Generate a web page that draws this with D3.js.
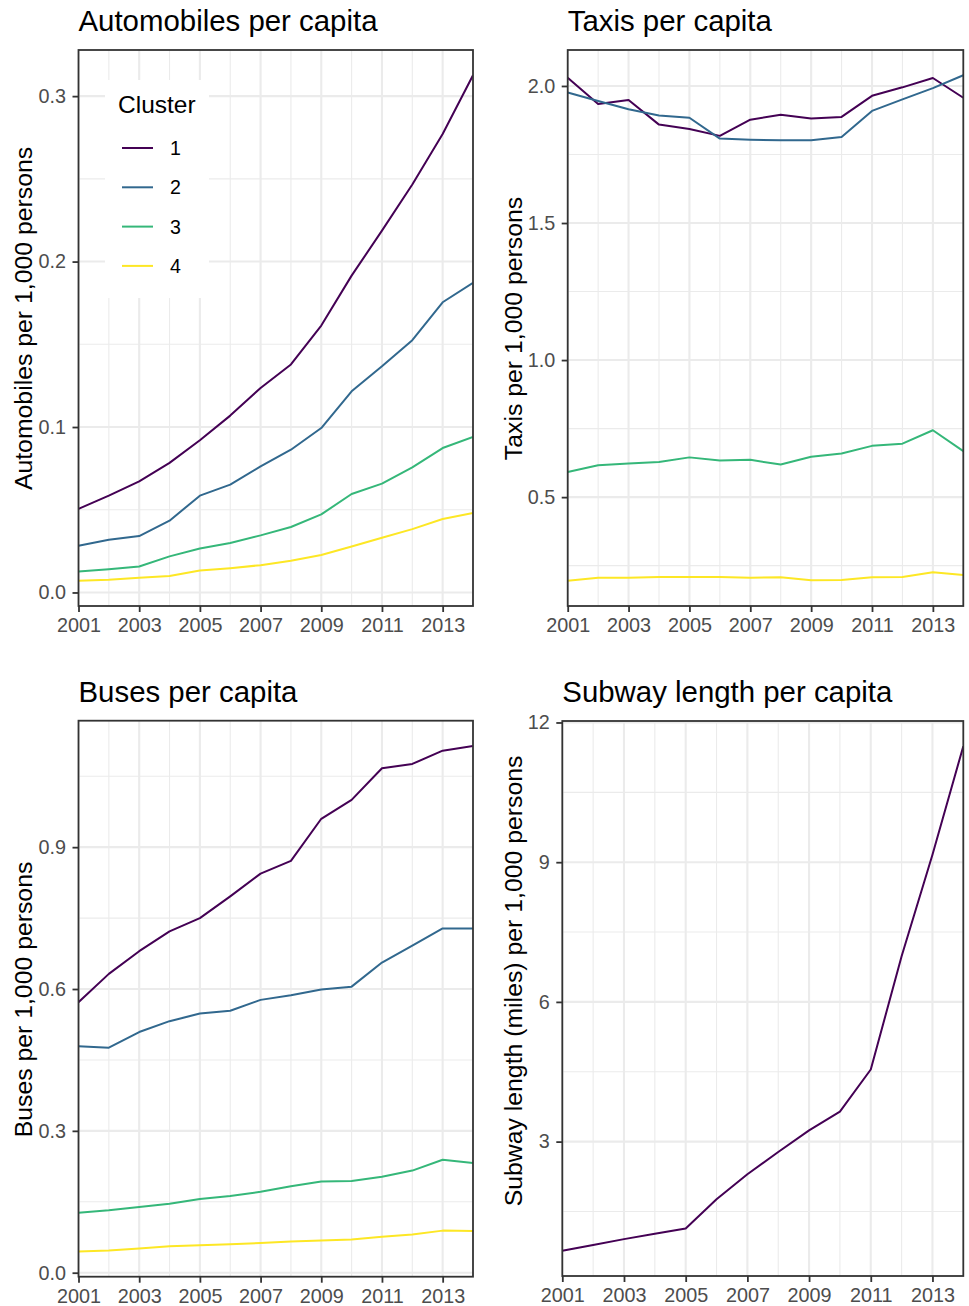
<!DOCTYPE html>
<html>
<head>
<meta charset="utf-8">
<script src="https://cdn.jsdelivr.net/npm/d3@7"></script>
<style>
  html, body { margin: 0; padding: 0; background: #ffffff; }
  svg { display: block; font-family: "Liberation Sans", Arial, Helvetica, sans-serif; }
</style>
</head>
<body>
<svg id="chart" width="969" height="1306"></svg>
<script>
// ---- data -------------------------------------------------------------
const years = [2001, 2002, 2003, 2004, 2005, 2006, 2007, 2008, 2009, 2010, 2011, 2012, 2013, 2014];
const clusters = ["1", "2", "3", "4"];
const clusterColors = ["#440154", "#31688E", "#35B779", "#FDE725"];

// Automobiles per 1,000 persons, by cluster
const autos1 = [0.0505, 0.0585, 0.0672, 0.0783, 0.0920, 0.1069, 0.1236, 0.1378, 0.1613, 0.1915, 0.2187, 0.2466, 0.2771, 0.3126];
const autos2 = [0.0282, 0.0319, 0.0341, 0.0434, 0.0585, 0.0652, 0.0762, 0.0863, 0.0994, 0.1216, 0.1367, 0.1525, 0.1754, 0.1872];
const autos3 = [0.0127, 0.0141, 0.0157, 0.0218, 0.0266, 0.0299, 0.0345, 0.0396, 0.0472, 0.0595, 0.0658, 0.0756, 0.0873, 0.0940];
const autos4 = [0.0071, 0.0077, 0.0089, 0.0099, 0.0133, 0.0147, 0.0165, 0.0192, 0.0226, 0.0278, 0.0331, 0.0383, 0.0444, 0.0480];

// Taxis per 1,000 persons, by cluster
const taxis1 = [2.030, 1.934, 1.949, 1.859, 1.843, 1.818, 1.877, 1.895, 1.881, 1.887, 1.964, 1.995, 2.029, 1.957];
const taxis2 = [1.976, 1.945, 1.915, 1.892, 1.884, 1.808, 1.804, 1.802, 1.802, 1.814, 1.909, 1.951, 1.992, 2.039];
const taxis3 = [0.592, 0.616, 0.623, 0.628, 0.645, 0.634, 0.636, 0.619, 0.647, 0.659, 0.687, 0.695, 0.744, 0.668];
const taxis4 = [0.195, 0.206, 0.206, 0.209, 0.209, 0.209, 0.206, 0.208, 0.197, 0.198, 0.208, 0.209, 0.226, 0.216];

// Buses per 1,000 persons, by cluster
const buses1 = [0.572, 0.632, 0.680, 0.722, 0.750, 0.796, 0.844, 0.871, 0.960, 1.000, 1.067, 1.076, 1.104, 1.114];
const buses2 = [0.479, 0.476, 0.509, 0.532, 0.548, 0.554, 0.577, 0.587, 0.599, 0.605, 0.656, 0.692, 0.728, 0.728];
const buses3 = [0.127, 0.132, 0.139, 0.146, 0.156, 0.162, 0.171, 0.183, 0.193, 0.194, 0.203, 0.216, 0.239, 0.232];
const buses4 = [0.045, 0.047, 0.051, 0.056, 0.058, 0.060, 0.063, 0.066, 0.068, 0.070, 0.076, 0.081, 0.089, 0.088];

// Subway length (miles) per 1,000 persons, cluster 1 only
const subway1 = [0.656, 0.778, 0.906, 1.020, 1.136, 1.763, 2.299, 2.777, 3.242, 3.642, 4.549, 6.98, 9.16, 11.49];

// ---- ticks ------------------------------------------------------------
const xMajorTicks = [2001, 2003, 2005, 2007, 2009, 2011, 2013];
const xMinorTicks = [2002, 2004, 2006, 2008, 2010, 2012, 2014];
const autosTicks = [0.0, 0.1, 0.2, 0.3];
const autosMinor = [0.05, 0.15, 0.25];
const taxisTicks = [0.5, 1.0, 1.5, 2.0];
const taxisMinor = [0.25, 0.75, 1.25, 1.75];
const busesTicks = [0.0, 0.3, 0.6, 0.9];
const busesMinor = [0.15, 0.45, 0.75, 1.05];
const subwayTicks = [3, 6, 9, 12];
const subwayMinor = [1.5, 4.5, 7.5, 10.5];

// ---- panels -------------------------------------------------------------
const panels = [
  { title: "Automobiles per capita", ylab: "Automobiles per 1,000 persons",
    series: [autos1, autos2, autos3, autos4], ticks: autosTicks, minor: autosMinor, fmt: d3.format(".1f"),
    box: { left: 78.5, top: 50, right: 473, bottom: 606 }, ylabX: 32, ylabY: 318.5, legend: true },
  { title: "Taxis per capita", ylab: "Taxis per 1,000 persons",
    series: [taxis1, taxis2, taxis3, taxis4], ticks: taxisTicks, minor: taxisMinor, fmt: d3.format(".1f"),
    box: { left: 567.7, top: 50, right: 963.3, bottom: 606 }, ylabX: 522, ylabY: 328.5 },
  { title: "Buses per capita", ylab: "Buses per 1,000 persons",
    series: [buses1, buses2, buses3, buses4], ticks: busesTicks, minor: busesMinor, fmt: d3.format(".1f"),
    box: { left: 78.5, top: 720.7, right: 473, bottom: 1276.7 }, ylabX: 32, ylabY: 999.5 },
  { title: "Subway length per capita", ylab: "Subway length (miles) per 1,000 persons",
    series: [subway1], ticks: subwayTicks, minor: subwayMinor, fmt: d3.format("d"),
    box: { left: 562.3, top: 721, right: 963.3, bottom: 1276 }, ylabX: 522, ylabY: 981 }
];

const GRID = "#EBEBEB";
const INK = "#333333";
const TICK_TEXT = "#4D4D4D";
const svg = d3.select("#chart");

svg.append("rect").attr("width", 969).attr("height", 1306).attr("fill", "#ffffff");

panels.forEach((p, pi) => {
  const b = p.box;
  const allVals = p.series.flat();
  const lo = d3.min(allVals), hi = d3.max(allVals);
  const pad = (hi - lo) * 0.05;

  const x = d3.scaleLinear().domain([years[0], years[years.length - 1]]).range([b.left, b.right]);
  const y = d3.scaleLinear().domain([lo - pad, hi + pad]).range([b.bottom, b.top]);

  const g = svg.append("g");

  g.append("rect")
    .attr("x", b.left).attr("y", b.top)
    .attr("width", b.right - b.left).attr("height", b.bottom - b.top)
    .attr("fill", "#ffffff");

  const clipId = "clip" + pi;
  g.append("clipPath").attr("id", clipId)
    .append("rect")
    .attr("x", b.left).attr("y", b.top)
    .attr("width", b.right - b.left).attr("height", b.bottom - b.top);

  const grid = g.append("g").attr("clip-path", `url(#${clipId})`);

  // minor grid
  grid.selectAll("line.vminor").data(xMinorTicks).join("line")
    .attr("x1", d => x(d)).attr("x2", d => x(d))
    .attr("y1", b.top).attr("y2", b.bottom)
    .attr("stroke", GRID).attr("stroke-width", 1.1);
  grid.selectAll("line.hminor").data(p.minor).join("line")
    .attr("x1", b.left).attr("x2", b.right)
    .attr("y1", d => y(d)).attr("y2", d => y(d))
    .attr("stroke", GRID).attr("stroke-width", 1.1);

  // major grid
  grid.selectAll("line.vmajor").data(xMajorTicks).join("line")
    .attr("x1", d => x(d)).attr("x2", d => x(d))
    .attr("y1", b.top).attr("y2", b.bottom)
    .attr("stroke", GRID).attr("stroke-width", 2.1);
  grid.selectAll("line.hmajor").data(p.ticks).join("line")
    .attr("x1", b.left).attr("x2", b.right)
    .attr("y1", d => y(d)).attr("y2", d => y(d))
    .attr("stroke", GRID).attr("stroke-width", 2.1);

  // series lines
  const line = d3.line().x((d, i) => x(years[i])).y(d => y(d));
  g.append("g").attr("clip-path", `url(#${clipId})`)
    .selectAll("path").data(p.series).join("path")
    .attr("d", line)
    .attr("fill", "none")
    .attr("stroke", (d, i) => clusterColors[i])
    .attr("stroke-width", 2)
    .attr("stroke-linejoin", "round");

  // panel border
  g.append("rect")
    .attr("x", b.left).attr("y", b.top)
    .attr("width", b.right - b.left).attr("height", b.bottom - b.top)
    .attr("fill", "none").attr("stroke", INK).attr("stroke-width", 1.8);

  // axes
  const xAxis = g.append("g").attr("transform", `translate(0,${b.bottom})`)
    .call(d3.axisBottom(x).tickValues(xMajorTicks).tickFormat(d3.format("d")).tickSize(6).tickPadding(6));
  const yAxis = g.append("g").attr("transform", `translate(${b.left},0)`)
    .call(d3.axisLeft(y).tickValues(p.ticks).tickFormat(p.fmt).tickSize(6).tickPadding(6.5));
  [xAxis, yAxis].forEach(ax => {
    ax.select(".domain").remove();
    ax.selectAll(".tick line").attr("stroke", INK).attr("stroke-width", 1.8);
    ax.selectAll(".tick text")
      .attr("fill", TICK_TEXT)
      .style("font-size", "19.8px")
      .style("font-family", '"Liberation Sans", Arial, Helvetica, sans-serif');
  });

  // title
  g.append("text")
    .attr("x", b.left).attr("y", b.top - 19)
    .attr("fill", "#000000")
    .style("font-size", "29.4px")
    .text(p.title);

  // y-axis title
  g.append("text")
    .attr("transform", `translate(${p.ylabX},${p.ylabY}) rotate(-90)`)
    .attr("text-anchor", "middle")
    .attr("fill", "#000000")
    .style("font-size", "24.8px")
    .text(p.ylab);

  // legend inside the first panel
  if (p.legend) {
    const lg = g.append("g");
    lg.append("rect")
      .attr("x", 105).attr("y", 80).attr("width", 104).attr("height", 218)
      .attr("fill", "#ffffff");
    lg.append("text")
      .attr("x", 118).attr("y", 113)
      .attr("fill", "#000000")
      .style("font-size", "24.5px")
      .text("Cluster");
    const items = lg.selectAll("g.item").data(clusters).join("g")
      .attr("transform", (d, i) => `translate(0,${148 + i * 39.3})`);
    items.append("line")
      .attr("x1", 122).attr("x2", 153).attr("y1", 0).attr("y2", 0)
      .attr("stroke", (d, i) => clusterColors[i]).attr("stroke-width", 2);
    items.append("text")
      .attr("x", 170).attr("y", 7)
      .attr("fill", "#000000")
      .style("font-size", "19.6px")
      .text(d => d);
  }
});
</script>
</body>
</html>
